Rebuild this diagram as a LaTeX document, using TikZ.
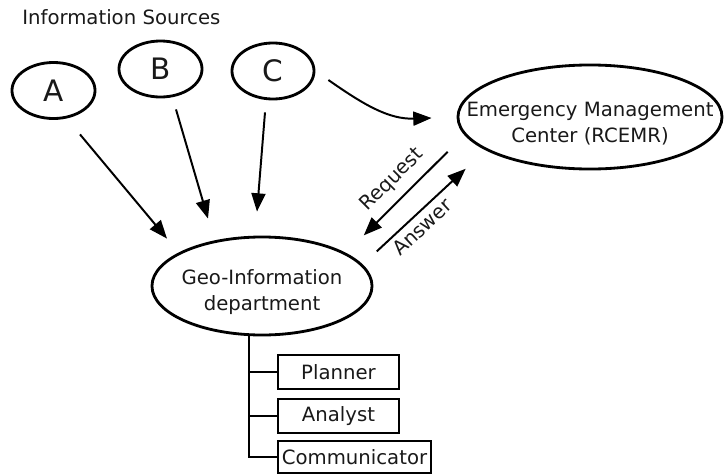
\documentclass[tikz,border=0pt]{standalone}
\usepackage{fontspec}
\setmainfont{DejaVu Sans}
\usetikzlibrary{shapes.geometric,arrows.meta,calc}

\begin{document}
\begin{tikzpicture}[x=0.025cm, y=-0.025cm,
      txt/.style={font=\fontsize{14pt}{18.5pt}\selectfont, text=black!90},
      src/.style={txt, draw, ellipse, line width=2pt, inner sep=0pt,
        minimum width=2.075cm, minimum height=1.4cm, font=\fontsize{21pt}{25pt}\selectfont},
      hub/.style={txt, draw, ellipse, line width=2pt, inner ysep=0pt, align=center},
      role/.style={txt, draw, line width=1.3pt, inner sep=0pt,
        minimum width=3.025cm, minimum height=0.84cm},
      flow/.style={line width=1.4pt, -{Triangle[length=13pt,width=10pt]}},
      tree/.style={line width=1.4pt}
    ]
    \useasboundingbox (0,0) rectangle (724,474);

    % sources
    \node[txt, anchor=base west, inner sep=0pt] (title) at (22,24) {Information Sources};
    \node[src] (a) at (53.5,90.5) {A};
    \node[src] (b) at (160.5,69) {B};
    \node[src, minimum width=2.05cm] (c) at (273,71) {C};

    % centres
    \node[hub, inner xsep=-0.8cm, minimum width=6.6cm, minimum height=2.6cm] (emc) at (590,117)
      {\rule{0pt}{19pt}Emergency Management\\Center (RCEMR)};
    \node[hub, inner xsep=-0.1cm, minimum width=5.5cm, minimum height=2.45cm] (geo) at (262,286)
      {\rule{0pt}{19pt}Geo-Information\\department};

    % staff
    \node[role] (planner) at (338.5,372) {Planner};
    \node[role] (analyst) at (338.5,416) {Analyst};
    \node[role, minimum width=3.825cm, minimum height=0.8cm] (comm) at (354.5,457) {Communicator};

    % information flow
    \draw[flow] ($(a.south)+(26.5,14.5)$) -- ($(geo.north)+(-95,3)$);
    \draw[flow] ($(b.south)+(15.5,11)$) -- ($(geo.north)+(-54,-17)$);
    \draw[flow] ($(c.south)+(-8,12)$) -- ($(geo.north)+(-5,-24)$);
    \draw[flow] ($(c.east)+(13,9)$) to[out=-35,in=182] ($(emc.west)+(-25,1)$);
    \draw[flow] ($(emc.south west)+(-48,-3)$) -- ($(geo.north east)+(23,-15)$)
      node[txt, midway, sloped, above=3pt] {Request};
    \draw[flow] ($(geo.north east)+(36,1)$) -- ($(emc.south west)+(-30,14)$)
      node[txt, pos=0.41, sloped, below] {Answer};

    % department tree
    \coordinate (trunk) at ($(geo.south)+(-13,0)$);
    \draw[tree] (trunk) |- (planner.west);
    \draw[tree] (trunk) |- (analyst.west);
    \draw[tree] (trunk) |- (comm.west);
  \end{tikzpicture}
\end{document}
